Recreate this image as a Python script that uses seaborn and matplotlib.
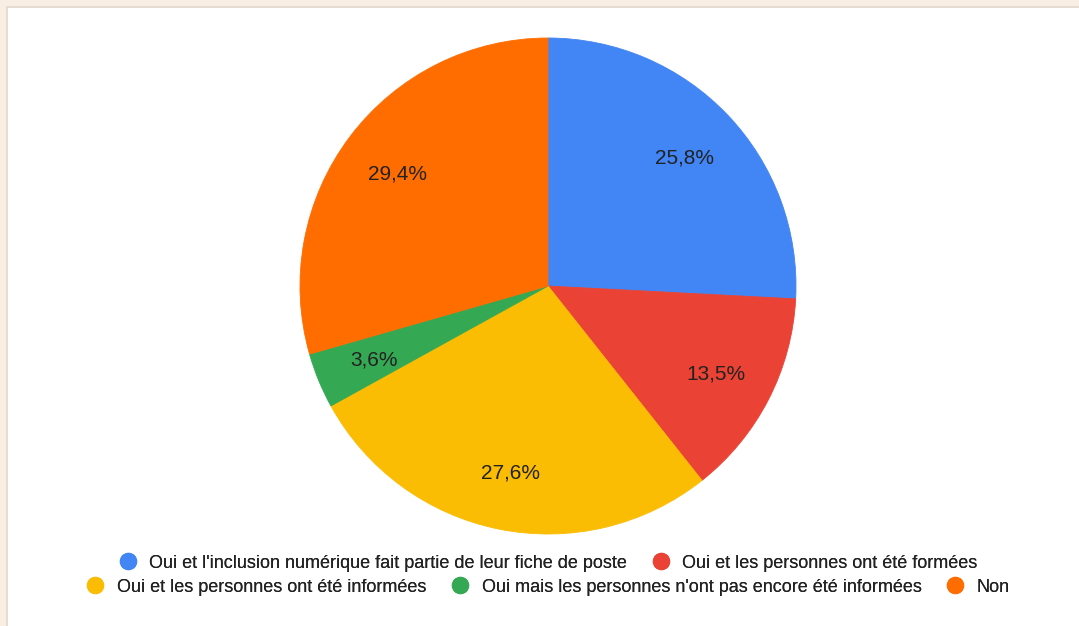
import matplotlib
matplotlib.use("Agg")
import matplotlib.pyplot as plt
from matplotlib.patches import Rectangle
from matplotlib.lines import Line2D
import seaborn as sns

categories = [
    "Oui et l'inclusion numérique fait partie de leur fiche de poste",
    "Oui et les personnes ont été formées",
    "Oui et les personnes ont été informées",
    "Oui mais les personnes n'ont pas encore été informées",
    "Non",
]
values = [25.8, 13.5, 27.6, 3.6, 29.4]
colors = ["#4285F4", "#EA4335", "#FBBC04", "#34A853", "#FF6D01"]
legend_rows = [[0, 1], [2, 3, 4]]

sns.set_theme(style="white")
plt.rcParams["font.family"] = ["Liberation Sans", "DejaVu Sans"]

W, H = 1079, 626
fig = plt.figure(figsize=(W / 100, H / 100), dpi=100)
fig.patch.set_facecolor("#F9EEE2")
# white card
fig.patches.append(Rectangle((6 / W, 0), 1, 1 - 6 / H, transform=fig.transFigure,
                             facecolor="#E6DCD2", edgecolor="none", zorder=-3))
fig.patches.append(Rectangle((8 / W, 0), 1, 1 - 8 / H, transform=fig.transFigure,
                             facecolor="white", edgecolor="none", zorder=-2))

cx, cy, r = 548, 286, 248
ax = fig.add_axes([(cx - r) / W, (H - cy - r) / H, 2 * r / W, 2 * r / H])
ax.set_zorder(2)
ax.set_facecolor("none")
palette = sns.color_palette(colors)

wedges, texts = ax.pie(
    values,
    colors=palette,
    startangle=90,
    counterclock=False,
    radius=1,
    labels=[f"{v:.1f}%".replace(".", ",") for v in values],
    labeldistance=0.76,
    wedgeprops=dict(linewidth=0.6),
    textprops=dict(fontsize=15, color="#222222"),
)
for w in wedges:
    w.set_edgecolor(w.get_facecolor())
for t in texts:
    t.set_horizontalalignment("center")
    t.set_verticalalignment("center_baseline")
ax.set_xlim(-1, 1)
ax.set_ylim(-1, 1)
ax.set_aspect("equal")
ax.axis("off")

row_y = [1 - 563 / H, 1 - 587 / H]
for row, y in zip(legend_rows, row_y):
    handles = [Line2D([0], [0], marker="o", linestyle="none", markersize=11.5,
                      markerfacecolor=palette[i], markeredgecolor=palette[i])
               for i in row]
    leg = fig.legend(handles, [categories[i] for i in row], loc="center",
                     bbox_to_anchor=(cx / W, y), ncol=len(row), frameon=False,
                     fontsize=13, handlelength=1.0, handletextpad=0.7,
                     columnspacing=1.35, borderpad=0, labelcolor="#222222")
    fig.add_artist(leg)

fig.savefig("out.png", dpi=100, facecolor=fig.get_facecolor())
